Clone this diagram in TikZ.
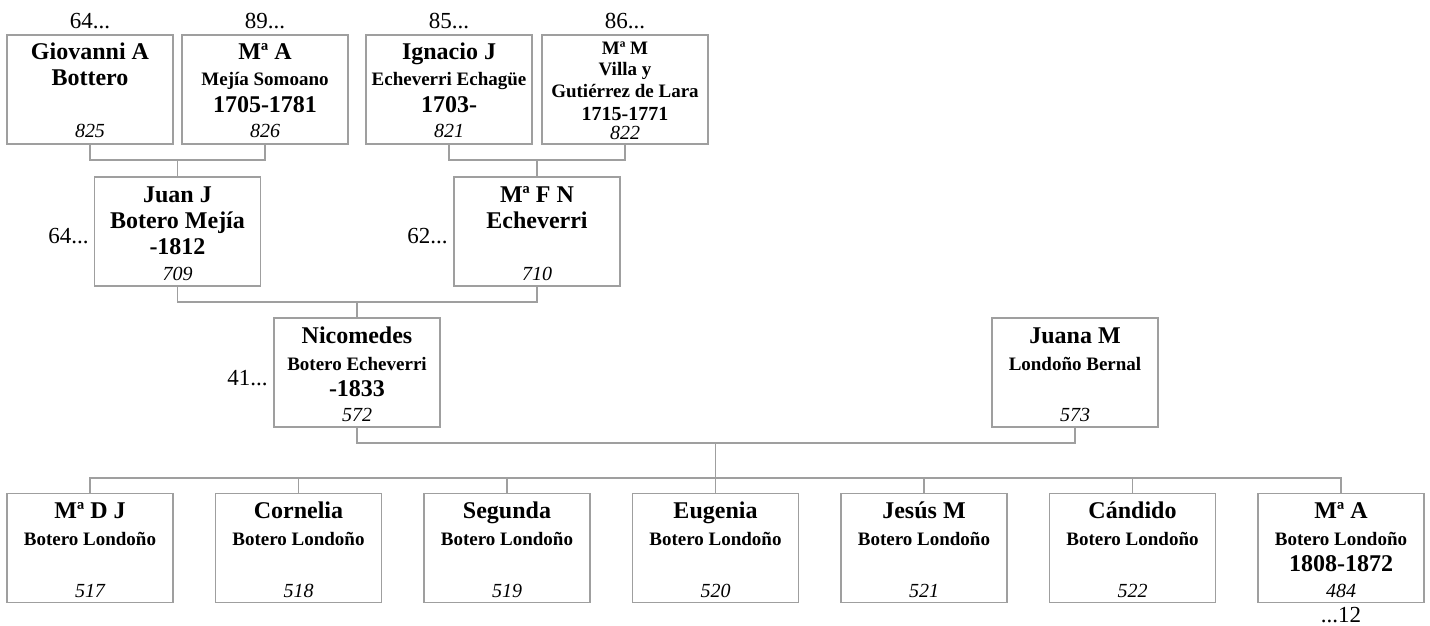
\documentclass[tikz,border=0pt]{standalone}
\usepackage{fontspec}
\setmainfont{Liberation Serif}
\tikzset{
  pbox/.style={draw=gray!75, line width=0.8pt, minimum width=83pt, minimum height=54.5pt, inner sep=0pt},
  link/.style={draw=gray!75, line width=0.8pt},
  pnam/.style={anchor=base, inner sep=0pt, font=\fontsize{12}{14}\selectfont\bfseries},
  psur/.style={anchor=base, inner sep=0pt, font=\fontsize{9.5}{11}\selectfont\bfseries},
  pnum/.style={anchor=base, inner sep=0pt, font=\fontsize{10}{12}\selectfont\itshape},
  pref/.style={anchor=base, inner sep=0pt, font=\fontsize{11.5}{13}\selectfont},
}

\begin{document}
\begin{tikzpicture}[x=0.5pt,y=-0.5pt]
\useasboundingbox (0,0) rectangle (1430,626);
% great-grandparents
\node[pbox] (b825) at (90,89.5) {};
\node[pref] (r825) at (90,29) {64...};
\node[pnam] (b825a) at (90,60) {Giovanni A};
\node[pnam] (b825b) at (90,86) {Bottero};
\node[pnum] (b825n) at (90,138) {825};
\node[pbox] (b826) at (265,89.5) {};
\node[pref] (r826) at (265,29) {89...};
\node[pnam] (b826a) at (265,60) {Mª A};
\node[psur] (b826b) at (265,86) {Mejía Somoano};
\node[pnam] (b826c) at (265,113) {1705-1781};
\node[pnum] (b826n) at (265,138) {826};
\node[pbox] (b821) at (449,89.5) {};
\node[pref] (r821) at (449,29) {85...};
\node[pnam] (b821a) at (449,60) {Ignacio J};
\node[psur] (b821b) at (449,86) {Echeverri Echagüe};
\node[pnam] (b821c) at (449,113) {1703-};
\node[pnum] (b821n) at (449,138) {821};
\node[pbox] (b822) at (625,89.5) {};
\node[pref] (r822) at (625,29) {86...};
\node[psur] (b822a) at (625,55) {Mª M};
\node[psur] (b822b) at (625,76) {Villa y};
\node[psur] (b822c) at (625,98) {Gutiérrez de Lara};
\node[psur, font=\fontsize{10}{12}\selectfont\bfseries] (b822d) at (625,121) {1715-1771};
\node[pnum] (b822n) at (625,140) {822};
% grandparents
\node[pbox] (b709) at (177.5,231.5) {};
\node[pref, anchor=base east] (r709) at (89,243) {64...};
\node[pnam] (b709a) at (177.5,202) {Juan J};
\node[pnam] (b709b) at (177.5,228) {Botero Mejía};
\node[pnam] (b709c) at (177.5,254) {-1812};
\node[pnum] (b709n) at (177.5,280) {709};
\node[pbox] (b710) at (537,231.5) {};
\node[pref, anchor=base east] (r710) at (448,243) {62...};
\node[pnam] (b710a) at (537,202) {Mª F N};
\node[pnam] (b710b) at (537,228) {Echeverri};
\node[pnum] (b710n) at (537,280) {710};
% parents
\node[pbox] (b572) at (357,372.5) {};
\node[pref, anchor=base east] (r572) at (268,385) {41...};
\node[pnam] (b572a) at (357,343) {Nicomedes};
\node[psur] (b572b) at (357,370) {Botero Echeverri};
\node[pnam] (b572c) at (357,396) {-1833};
\node[pnum] (b572n) at (357,421) {572};
\node[pbox] (b573) at (1075,372.5) {};
\node[pnam] (b573a) at (1075,343) {Juana M};
\node[psur] (b573b) at (1075,370) {Londoño Bernal};
\node[pnum] (b573n) at (1075,421) {573};
% children
\node[pbox] (b517) at (90,548) {};
\node[pnam] (b517a) at (90,518) {Mª D J};
\node[psur] (b517b) at (90,545) {Botero Londoño};
\node[pnum] (b517n) at (90,597) {517};
\node[pbox] (b518) at (298.5,548) {};
\node[pnam] (b518a) at (298.5,518) {Cornelia};
\node[psur] (b518b) at (298.5,545) {Botero Londoño};
\node[pnum] (b518n) at (298.5,597) {518};
\node[pbox] (b519) at (507,548) {};
\node[pnam] (b519a) at (507,518) {Segunda};
\node[psur] (b519b) at (507,545) {Botero Londoño};
\node[pnum] (b519n) at (507,597) {519};
\node[pbox] (b520) at (715.5,548) {};
\node[pnam] (b520a) at (715.5,518) {Eugenia};
\node[psur] (b520b) at (715.5,545) {Botero Londoño};
\node[pnum] (b520n) at (715.5,597) {520};
\node[pbox] (b521) at (924,548) {};
\node[pnam] (b521a) at (924,518) {Jesús M};
\node[psur] (b521b) at (924,545) {Botero Londoño};
\node[pnum] (b521n) at (924,597) {521};
\node[pbox] (b522) at (1132.5,548) {};
\node[pnam] (b522a) at (1132.5,518) {Cándido};
\node[psur] (b522b) at (1132.5,545) {Botero Londoño};
\node[pnum] (b522n) at (1132.5,597) {522};
\node[pbox] (b484) at (1341,548) {};
\node[pnam] (b484a) at (1341,518) {Mª A};
\node[psur] (b484b) at (1341,545) {Botero Londoño};
\node[pnam] (b484c) at (1341,571) {1808-1872};
\node[pnum] (b484n) at (1341,597) {484};
\node[pref] (r484) at (1341,622) {...12};
% connectors
\coordinate (j709) at (177.5,160);
\coordinate (j710) at (537,160);
\coordinate (j572) at (357,302);
\coordinate (jcpl) at (715.5,443);
\coordinate (jkid) at (715.5,478);
\draw[link] (b825.south) |- (j709) -| (b826.south);
\draw[link] (j709) -- (b709.north);
\draw[link] (b821.south) |- (j710) -| (b822.south);
\draw[link] (j710) -- (b710.north);
\draw[link] (b709.south) |- (j572) -| (b710.south);
\draw[link] (j572) -- (b572.north);
\draw[link] (b572.south) |- (jcpl) -| (b573.south);
\draw[link] (jcpl) -- (jkid);
\draw[link] (jkid) -| (b517.north);
\draw[link] (jkid) -| (b518.north);
\draw[link] (jkid) -| (b519.north);
\draw[link] (jkid) -- (b520.north);
\draw[link] (jkid) -| (b521.north);
\draw[link] (jkid) -| (b522.north);
\draw[link] (jkid) -| (b484.north);
\end{tikzpicture}
\end{document}
